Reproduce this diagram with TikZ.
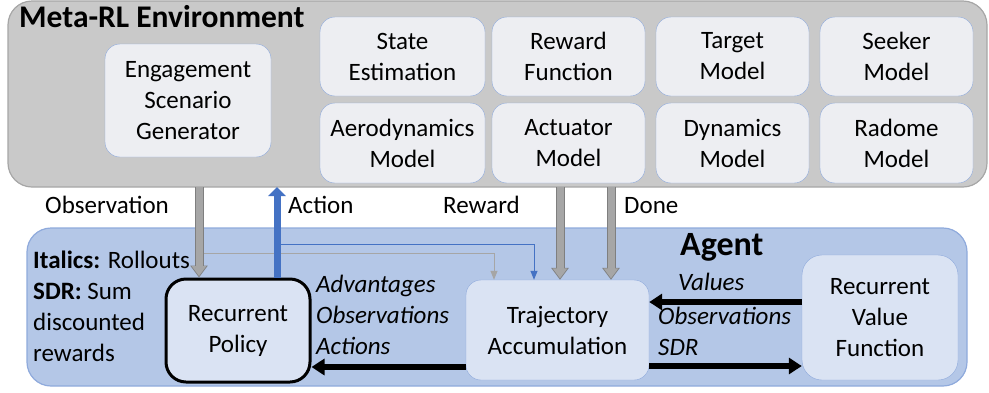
\documentclass[tikz,border=0pt]{standalone}
\usepackage{fontspec}
\setmainfont{Carlito}
\usetikzlibrary{arrows.meta, positioning}
\definecolor{envgrey}{HTML}{C9C9C9}
\definecolor{envline}{HTML}{A6A6A6}
\definecolor{agentblue}{HTML}{B4C7E7}
\definecolor{agentline}{HTML}{8FAADC}
\definecolor{boxfill}{HTML}{EDEEF2}
\definecolor{cellfill}{HTML}{DAE3F3}
\definecolor{cblue}{HTML}{4472C4}
\definecolor{gfill}{HTML}{A6A6A6}
\definecolor{gline}{HTML}{7F7F7F}
\tikzset{
  every picture/.style={x=1pt, y=-1pt},
  txt/.style={font=\fontsize{25}{31}\selectfont},
  panel/.style={draw=#1, line width=1.2pt, rounded corners=24pt, inner sep=0pt},
  module/.style={draw=agentline, fill=#1, rounded corners=15pt, align=center, inner sep=2pt, txt},
  module/.default=boxfill,
  garrow/.style={draw=gfill, line width=7pt, -{Triangle[width=14pt,length=10pt]}, shorten >=1.4pt,
    preaction={draw=gline, line width=9pt, -{Triangle[width=17pt,length=12pt]}, shorten >=0pt}},
  barrow/.style={draw=cblue, line width=7pt, -{Triangle[width=17pt,length=9pt]}},
  karrow/.style={draw=black, line width=6pt, -{Triangle[width=16pt,length=13pt]}},
  rollout/.style={draw=#1, line width=1pt, -{Triangle[width=7pt,length=9pt]}},
  lbl/.style={txt, inner sep=0pt, anchor=base west},
}

\begin{document}
\begin{tikzpicture}
  \useasboundingbox (0,0) rectangle (989,392);
  % environment
  \node[panel=envline, fill=envgrey, minimum width=979pt, minimum height=186pt] (env) at (497.5,94) {};
  \node[lbl, font=\fontsize{31.5}{37}\selectfont\bfseries] (envtitle) at (19,27) {Meta-RL Environment};
  \node[module, minimum width=166pt, minimum height=113pt] (engage) at (188,100.5) {Engagement\\Scenario\\Generator};
  \node[module, minimum width=165pt, minimum height=79pt] (state) at (402.5,56.5) {State\\Estimation};
  \node[module, minimum width=153pt, minimum height=79pt] (reward) at (568.5,56.5) {Reward\\Function};
  \node[module, minimum width=153pt, minimum height=79pt] (target) at (732.5,56.5) {Target\\Model};
  \node[module, minimum width=153pt, minimum height=79pt] (seeker) at (896.5,56.5) {Seeker\\Model};
  \node[module, minimum width=165pt, minimum height=80pt] (aero) at (402.5,143) {Aerodynamics\\Model};
  \node[module, minimum width=153pt, minimum height=80pt] (actuator) at (568.5,143) {Actuator\\Model};
  \node[module, minimum width=153pt, minimum height=80pt] (dynamics) at (732.5,143) {Dynamics\\Model};
  \node[module, minimum width=153pt, minimum height=80pt] (radome) at (896.5,143) {Radome\\Model};
  % agent
  \node[panel=agentline, fill=agentblue, minimum width=940pt, minimum height=158pt] (agent) at (497,307) {};
  \node[lbl, font=\fontsize{34}{40}\selectfont\bfseries] (agenttitle) at (680,255) {Agent};
  \node[module=cellfill, draw=black, line width=3pt, rounded corners=20pt, minimum width=144pt, minimum height=103pt] (policy) at (238,330.5) {Recurrent\\Policy};
  \node[module=cellfill, minimum width=183pt, minimum height=100pt] (traj) at (557.5,330) {Trajectory\\Accumulation};
  \node[module=cellfill, rounded corners=20pt, minimum width=156pt, minimum height=125pt] (valuefn) at (880,317.5) {Recurrent\\Value\\Function};
  \node[txt, inner sep=0pt, anchor=north west, align=left] (legend) at (33,251) {\textbf{Italics:} Rollouts\\\textbf{SDR:} Sum\\discounted\\rewards};
  % between the panels
  \coordinate (obs) at (199,187);
  \coordinate (act) at (277,187);
  \coordinate (rew) at (560,187);
  \coordinate (done) at (611,187);
  \coordinate (roll) at (203,253);
  \coordinate (actsplit) at (281,244);
  \draw[rollout=gfill] (roll) -| ([xshift=-63.5pt]traj.north);
  \draw[rollout=cblue] (actsplit) -| ([xshift=-23.5pt]traj.north);
  \draw[garrow] (obs) -- (obs |- policy.north);
  \draw[barrow] (act |- policy.north) -- (act);
  \draw[garrow] (rew) -- (rew |- traj.north);
  \draw[garrow] (done) -- (done |- traj.north);
  \node[lbl] (obslbl) at (45,213) {Observation};
  \node[lbl] (actlbl) at (288,213) {Action};
  \node[lbl] (rewlbl) at (443,213) {Reward};
  \node[lbl] (donelbl) at (624,213) {Done};
  % rollouts inside the agent
  \draw[karrow] ([yshift=28pt]traj.east -| valuefn.west) -- ([yshift=28pt]traj.east);
  \draw[karrow] ([yshift=-36pt]traj.east) -- ([yshift=-36pt]traj.east -| valuefn.west);
  \draw[karrow] ([yshift=-37pt]traj.west) -- ([yshift=-37pt]traj.west -| policy.east);
  \node[lbl, font=\fontsize{25}{31}\selectfont\itshape] (vallbl) at (678,290) {Values};
  \node[txt, font=\fontsize{25}{31}\selectfont\itshape, inner sep=0pt, anchor=north west, align=left] (sdrlbl) at (658,307) {Observations\\SDR};
  \node[txt, font=\fontsize{25}{31}\selectfont\itshape, inner sep=0pt, anchor=north west, align=left] (advlbl) at (316,275) {Advantages\\Observations\\Actions};
\end{tikzpicture}
\end{document}
